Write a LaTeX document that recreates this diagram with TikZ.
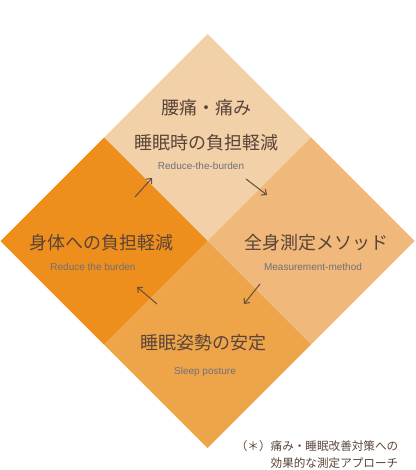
\documentclass[tikz,border=0pt]{standalone}
\usepackage{fontspec}
\newfontfamily\jpfont{Noto Sans CJK JP}
\newfontfamily\enfont{Liberation Sans}
\usetikzlibrary{arrows.meta}
\definecolor{peach}{HTML}{F2D1A9}
\definecolor{deeporange}{HTML}{EE8E1C}
\definecolor{lightorange}{HTML}{F0B87A}
\definecolor{midorange}{HTML}{EEA54A}
\definecolor{jptext}{HTML}{5A4438}
\definecolor{entext}{HTML}{6E7078}
\definecolor{arrowcol}{HTML}{6B5040}

\begin{document}
\begin{tikzpicture}[x=0.75pt,y=-0.75pt,
  jlabel/.style={text=jptext,font=\jpfont\fontsize{13.5}{16}\selectfont},
  elabel/.style={text=entext,font=\enfont\fontsize{7.5}{9}\selectfont},
  notelabel/.style={text=jptext,anchor=east,font=\jpfont\fontsize{8.7}{11}\selectfont},
  flow/.style={draw=arrowcol,line width=0.8pt,-{Straight Barb[length=3pt,width=5.5pt]}}]
\useasboundingbox (0,0) rectangle (415,470);
% the four quarters of the big diamond
\fill[peach] (207.5,34) -- (311,137.5) -- (207.5,241) -- (104,137.5) -- cycle;
\fill[deeporange] (104,137.5) -- (207.5,241) -- (104,344.5) -- (0.5,241) -- cycle;
\fill[lightorange] (311,137.5) -- (414.5,241) -- (311,344.5) -- (207.5,241) -- cycle;
\fill[midorange] (207.5,241) -- (311,344.5) -- (207.5,448) -- (104,344.5) -- cycle;

\node[jlabel] (pain) at (206,108) {腰痛・痛み};
\node[jlabel] (sleepload) at (206,143) {睡眠時の負担軽減};
\node[elabel] (topen) at (201,166) {Reduce-the-burden};

\node[jlabel] (bodyload) at (101,243) {身体への負担軽減};
\node[elabel] (leften) at (93,267) {Reduce the burden};

\node[jlabel] (measure) at (316,243) {全身測定メソッド};
\node[elabel] (righten) at (313,267) {Measurement-method};

\node[jlabel] (posture) at (203,343) {睡眠姿勢の安定};
\node[elabel] (bottomen) at (205,372) {Sleep posture};

\node[notelabel] (note1) at (403,446) {（＊）痛み・睡眠改善対策への};
\node[notelabel] (note2) at (403,463) {効果的な測定アプローチ};

% cycle arrows
\coordinate (ul1) at (135,197);
\coordinate (ul2) at (152,178);
\coordinate (ur1) at (246,179);
\coordinate (ur2) at (267,195);
\coordinate (lr1) at (260,284);
\coordinate (lr2) at (244,304);
\coordinate (ll1) at (157,304);
\coordinate (ll2) at (137,287);
\draw[flow] (ul1) -- (ul2);
\draw[flow] (ur1) -- (ur2);
\draw[flow] (lr1) -- (lr2);
\draw[flow] (ll1) -- (ll2);
\end{tikzpicture}
\end{document}
